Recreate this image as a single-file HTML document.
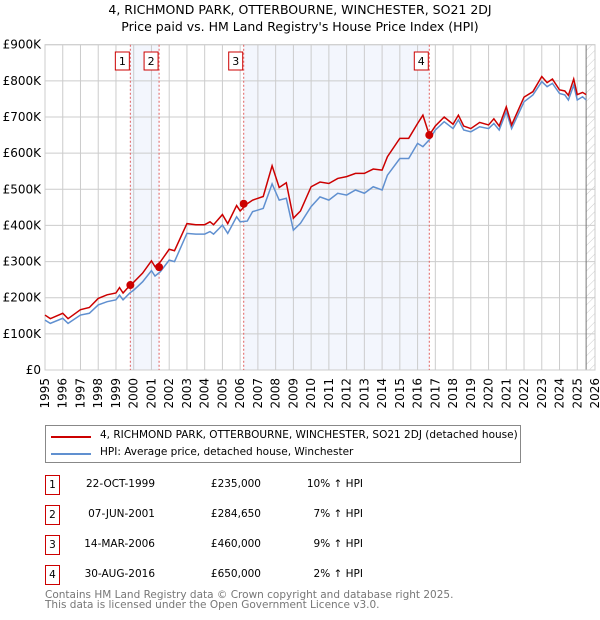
<!DOCTYPE html>
<html><head><meta charset="utf-8"><style>
body{margin:0;background:#fff;font-family:"DejaVu Sans","Liberation Sans",sans-serif;}
#wrap{position:relative;width:600px;height:620px;overflow:hidden;}
.t{position:absolute;font-size:10.5px;color:#000;white-space:nowrap;}
.box{position:absolute;border:1px solid #c00;width:13px;height:18px;font-size:10.5px;text-align:center;line-height:18px;}
</style></head><body><div id="wrap">
<div class="t" style="left:0;width:600px;text-align:center;top:2px;font-size:12.5px">4, RICHMOND PARK, OTTERBOURNE, WINCHESTER, SO21 2DJ</div>
<div class="t" style="left:0;width:600px;text-align:center;top:19px;font-size:12.5px">Price paid vs. HM Land Registry's House Price Index (HPI)</div>
<svg id="chart" width="600" height="420" style="position:absolute;left:0;top:0"></svg>
<div style="position:absolute;left:45px;top:425px;width:474px;height:36px;border:1px solid #888;">
<div style="position:absolute;left:5px;top:10px;width:40px;height:2px;background:#c00"></div>
<div class="t" style="left:54px;top:3px">4, RICHMOND PARK, OTTERBOURNE, WINCHESTER, SO21 2DJ (detached house)</div>
<div style="position:absolute;left:5px;top:27px;width:40px;height:2px;background:#6090d0"></div>
<div class="t" style="left:54px;top:20px">HPI: Average price, detached house, Winchester</div>
</div>
<div id="tbl"></div>
<div class="t" style="left:45px;top:590px;color:#777;line-height:10px">Contains HM Land Registry data © Crown copyright and database right 2025.<br>This data is licensed under the Open Government Licence v3.0.</div>
</div>
<script>
const hpiYears=[1995,1995.3,1996,1996.3,1997,1997.5,1998,1998.5,1999,1999.2,1999.4,1999.8,2000,2000.5,2001,2001.2,2001.5,2002,2002.3,2003,2003.5,2004,2004.3,2004.5,2005,2005.3,2005.8,2006,2006.4,2006.7,2007.3,2007.8,2008.2,2008.6,2009,2009.4,2010,2010.5,2011,2011.5,2012,2012.5,2013,2013.5,2014,2014.3,2015,2015.5,2016,2016.3,2016.66,2017,2017.5,2018,2018.3,2018.6,2019,2019.5,2020,2020.3,2020.6,2021,2021.3,2022,2022.5,2023,2023.3,2023.6,2024,2024.3,2024.5,2024.8,2025,2025.3,2025.5];
const hpiValues=[138,129,143,129,152,157,180,189,194,207,194,214,221,244,275,260,272,304,300,378,376,376,383,376,401,378,424,410,412,438,447,515,470,475,387,406,452,479,470,489,484,498,489,507,498,539,585,585,627,618,637,664,687,668,692,664,659,673,668,682,664,715,668,742,761,798,784,793,765,761,747,788,747,756,747];
const redValues=[152,142,157,142,167,173,198,208,213,228,213,235,243,268,302,286,299,334,330,405,402,402,410,402,430,405,455,440,460,470,480,565,505,518,420,440,507,520,516,530,535,544,544,556,553,590,641,641,682,705,650,675,700,680,705,675,668,685,678,695,675,728,678,755,770,812,795,805,775,772,760,805,762,768,762];
const saleYears=[1999.81,2001.43,2006.2,2016.66];
const salePrices=[235,284.65,460,650];
const saleLabels=["1","2","3","4"];
const saleDates=["22-OCT-1999","07-JUN-2001","14-MAR-2006","30-AUG-2016"];
const salePriceText=["£235,000","£284,650","£460,000","£650,000"];
const saleHpiText=["10% ↑ HPI","7% ↑ HPI","9% ↑ HPI","2% ↑ HPI"];
const yTicks=[0,100,200,300,400,500,600,700,800,900];
const yTickLabels=["£0","£100K","£200K","£300K","£400K","£500K","£600K","£700K","£800K","£900K"];
const X0=45,X1=595,Y0=370,Y1=44.7;
const xs=y=>X0+(y-1995)/(2026-1995)*(X1-X0);
const ys=v=>Y0-v/900*(Y0-Y1);
const svg=document.getElementById('chart');
const NS='http://www.w3.org/2000/svg';
function mk(tag,attrs,name){const e=document.createElementNS(NS,tag);for(const k in attrs)e.setAttribute(k,attrs[k]);


svg.appendChild(e);return e;}
mk('rect',{x:xs(saleYears[0]),y:Y1,width:xs(saleYears[1])-xs(saleYears[0]),height:Y0-Y1,fill:'#f3f6fd'},'shade-1');
mk('rect',{x:xs(saleYears[2]),y:Y1,width:xs(saleYears[3])-xs(saleYears[2]),height:Y0-Y1,fill:'#f3f6fd'},'shade-2');
const defs=document.createElementNS(NS,'defs');defs.innerHTML='<pattern id="h" width="6" height="6" patternUnits="userSpaceOnUse" patternTransform="rotate(45)"><line x1="0" y1="0" x2="0" y2="6" stroke="#ccc" stroke-width="1"/></pattern>';svg.appendChild(defs);
mk('rect',{x:xs(2025.5),y:Y1,width:X1-xs(2025.5),height:Y0-Y1,fill:'url(#h)'},'future-hatch');
for(let yr=1995;yr<=2026;yr++){
 mk('line',{x1:xs(yr),y1:Y1,x2:xs(yr),y2:Y0,stroke:'#ccc'},'x-grid');
 const t=mk('text',{x:0,y:0,'font-size':12,'text-anchor':'end',transform:`translate(${xs(yr)+4},${Y0+8}) rotate(-90)`},'x-tick-label');t.textContent=yr;
}
yTicks.forEach((v,i)=>{mk('line',{x1:X0,y1:ys(v),x2:X1,y2:ys(v),stroke:'#ccc'},'y-grid');
 const t=mk('text',{x:X0-4,y:ys(v)+4,'font-size':12,'text-anchor':'end'},'y-tick-label');t.textContent=yTickLabels[i];});
mk('line',{x1:xs(2025.5),y1:Y1,x2:xs(2025.5),y2:Y0,stroke:'#777'},'future-line');
mk('rect',{x:X0,y:Y1,width:X1-X0,height:Y0-Y1,fill:'none',stroke:'#ccc'},'plot-border');
saleYears.forEach((y,i)=>{mk('line',{x1:xs(y),y1:Y1,x2:xs(y),y2:Y0,stroke:'#e06060','stroke-dasharray':'2,2'},'sale-marker-line');
 mk('rect',{x:xs(y)-15,y:52,width:14,height:18,fill:'#fff',stroke:'#c00'},'sale-label-box');
 const t=mk('text',{x:xs(y)-8,y:65,'font-size':11,'text-anchor':'middle'},'sale-label');t.textContent=saleLabels[i];});
mk('polyline',{points:hpiYears.map((y,i)=>xs(y)+','+ys(hpiValues[i])).join(' '),fill:'none',stroke:'#6090d0','stroke-width':1.5},'hpi-line');
mk('polyline',{points:hpiYears.map((y,i)=>xs(y)+','+ys(redValues[i])).join(' '),fill:'none',stroke:'#c00','stroke-width':1.5},'property-line');
saleYears.forEach((y,i)=>mk('circle',{cx:xs(y),cy:ys(salePrices[i]),r:4,fill:'#c00'},'sale-point'));
const tbl=document.getElementById('tbl');
saleDates.forEach((d,i)=>{const top=475+i*30;
 tbl.insertAdjacentHTML('beforeend',`<div class="box" style="left:45px;top:${top}px">${saleLabels[i]}</div>
 <div class="t" style="right:445px;top:${top+3}px">${d}</div>
 <div class="t" style="right:339px;top:${top+3}px">${salePriceText[i]}</div>
 <div class="t" style="right:237px;top:${top+3}px">${saleHpiText[i]}</div>`);});
</script></body></html>
